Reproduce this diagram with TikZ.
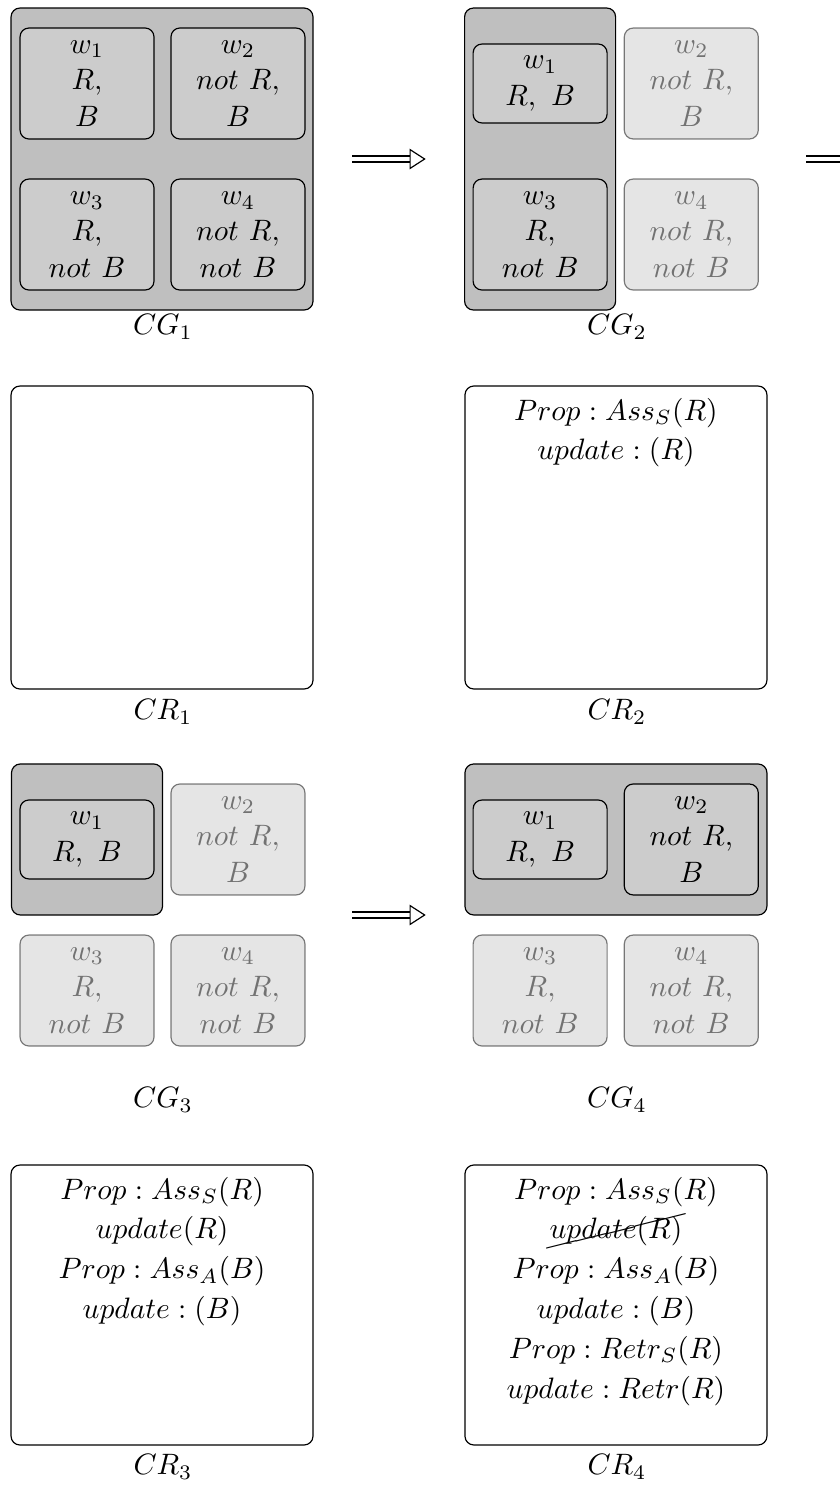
\documentclass[tikz,border=0pt]{standalone}
\usepackage{amsmath, amssymb}
\usepackage{cancel}
\usepackage{tikz}
\usetikzlibrary{arrows.meta, positioning}

\begin{document}
\begin{tikzpicture}
\tikzset{
    every node/.style={font=\fontsize{10.25}{12.3}\selectfont},
    world/.style={draw, rounded corners=3pt, fill=black!20, align=center, inner sep=1pt, minimum width=1.595cm, minimum height=1.321cm},
    world small/.style={world, minimum height=0.94cm},
    faded/.style={world, opacity=0.5},
    group/.style={draw, rounded corners=3pt, fill=black!25, inner sep=0pt},
    state frame/.style={inner sep=0pt, minimum size=3.595cm},
    record/.style={draw, rounded corners=3pt, inner sep=0pt, minimum width=3.595cm},
    trans/.style={double, double distance=1.6pt, -{Triangle[open, length=5.5pt, width=7pt]}, shorten <=0.46cm, shorten >=0.46cm}
}
\useasboundingbox (0,0) rectangle (10,-17.679);

% CG_1
\node[group, state frame] (s1) at (1.929,-1.893) {};
\node[world] (a1) at (1.036,-0.994) {$w_1$\\$R,$\\$B$};
\node[world] (a2) at (2.833,-0.994) {$w_2$\\$not\ R,$\\$B$};
\node[world] (a3) at (1.036,-2.792) {$w_3$\\$R,$\\$not\ B$};
\node[world] (a4) at (2.833,-2.792) {$w_4$\\$not\ R,$\\$not\ B$};
\node (cg1) at (1.94,-3.893) {$CG_1$};

% CG_2
\node[state frame] (s2) at (7.333,-1.893) {};
\node[group, minimum width=1.798cm, minimum height=3.595cm] (g2) at (6.43,-1.893) {};
\node[world small] (b1) at (6.43,-0.994) {$w_1$\\$R,\ B$};
\node[faded] (b2) at (8.23,-0.994) {$w_2$\\$not\ R,$\\$B$};
\node[world] (b3) at (6.43,-2.792) {$w_3$\\$R,$\\$not\ B$};
\node[faded] (b4) at (8.23,-2.792) {$w_4$\\$not\ R,$\\$not\ B$};
\node (cg2) at (7.345,-3.893) {$CG_2$};
\coordinate (next) at (10.5,-1.893);

% CR_1, CR_2
\node[record, minimum height=3.607cm] (cr1) at (1.929,-6.399) {};
\node (cr1l) at (1.94,-8.476) {$CR_1$};
\node[record, minimum height=3.607cm] (cr2) at (7.333,-6.399) {};
\node[align=center, below=0.7pt of cr2.north] (t2) {$Prop : Ass_S(R)$\\[1.2pt]$update : (R)$};
\node (cr2l) at (7.345,-8.476) {$CR_2$};

% CG_3
\node[state frame] (s3) at (1.929,-10.893) {};
\node[group, minimum width=1.798cm, minimum height=1.798cm] (g3) at (1.036,-9.994) {};
\node[world small] (c1) at (1.036,-9.994) {$w_1$\\$R,\ B$};
\node[faded] (c2) at (2.833,-9.994) {$w_2$\\$not\ R,$\\$B$};
\node[faded] (c3) at (1.036,-11.792) {$w_3$\\$R,$\\$not\ B$};
\node[faded] (c4) at (2.833,-11.792) {$w_4$\\$not\ R,$\\$not\ B$};
\node (cg3) at (1.94,-13.095) {$CG_3$};

% CG_4
\node[state frame] (s4) at (7.333,-10.893) {};
\node[group, minimum width=3.595cm, minimum height=1.798cm] (g4) at (7.333,-9.994) {};
\node[world small] (d1) at (6.43,-9.994) {$w_1$\\$R,\ B$};
\node[world] (d2) at (8.23,-9.994) {$w_2$\\$not\ R,$\\$B$};
\node[faded] (d3) at (6.43,-11.792) {$w_3$\\$R,$\\$not\ B$};
\node[faded] (d4) at (8.23,-11.792) {$w_4$\\$not\ R,$\\$not\ B$};
\node (cg4) at (7.345,-13.095) {$CG_4$};

% CR_3, CR_4
\node[record, minimum height=3.333cm] (cr3) at (1.929,-15.536) {};
\node[align=center, below=0.7pt of cr3.north] (t3) {$Prop : Ass_S(R)$\\[1.2pt]$update(R)$\\[1.2pt]$Prop : Ass_A(B)$\\[1.2pt]$update : (B)$};
\node (cr3l) at (1.94,-17.464) {$CR_3$};
\node[record, minimum height=3.333cm] (cr4) at (7.333,-15.536) {};
\node[align=center, below=0.7pt of cr4.north] (t4) {$Prop : Ass_S(R)$\\[1.2pt]$\cancel{update(R)}$\\[1.2pt]$Prop : Ass_A(B)$\\[1.2pt]$update : (B)$\\[1.2pt]$Prop : Retr_S(R)$\\[1.2pt]$update : Retr(R)$};
\node (cr4l) at (7.345,-17.464) {$CR_4$};

\draw[trans] (s1) -- (s2);
\draw[trans] (s3) -- (s4);
\draw[trans, shorten >=0pt] (s2) -- (next);
\end{tikzpicture}
\end{document}
